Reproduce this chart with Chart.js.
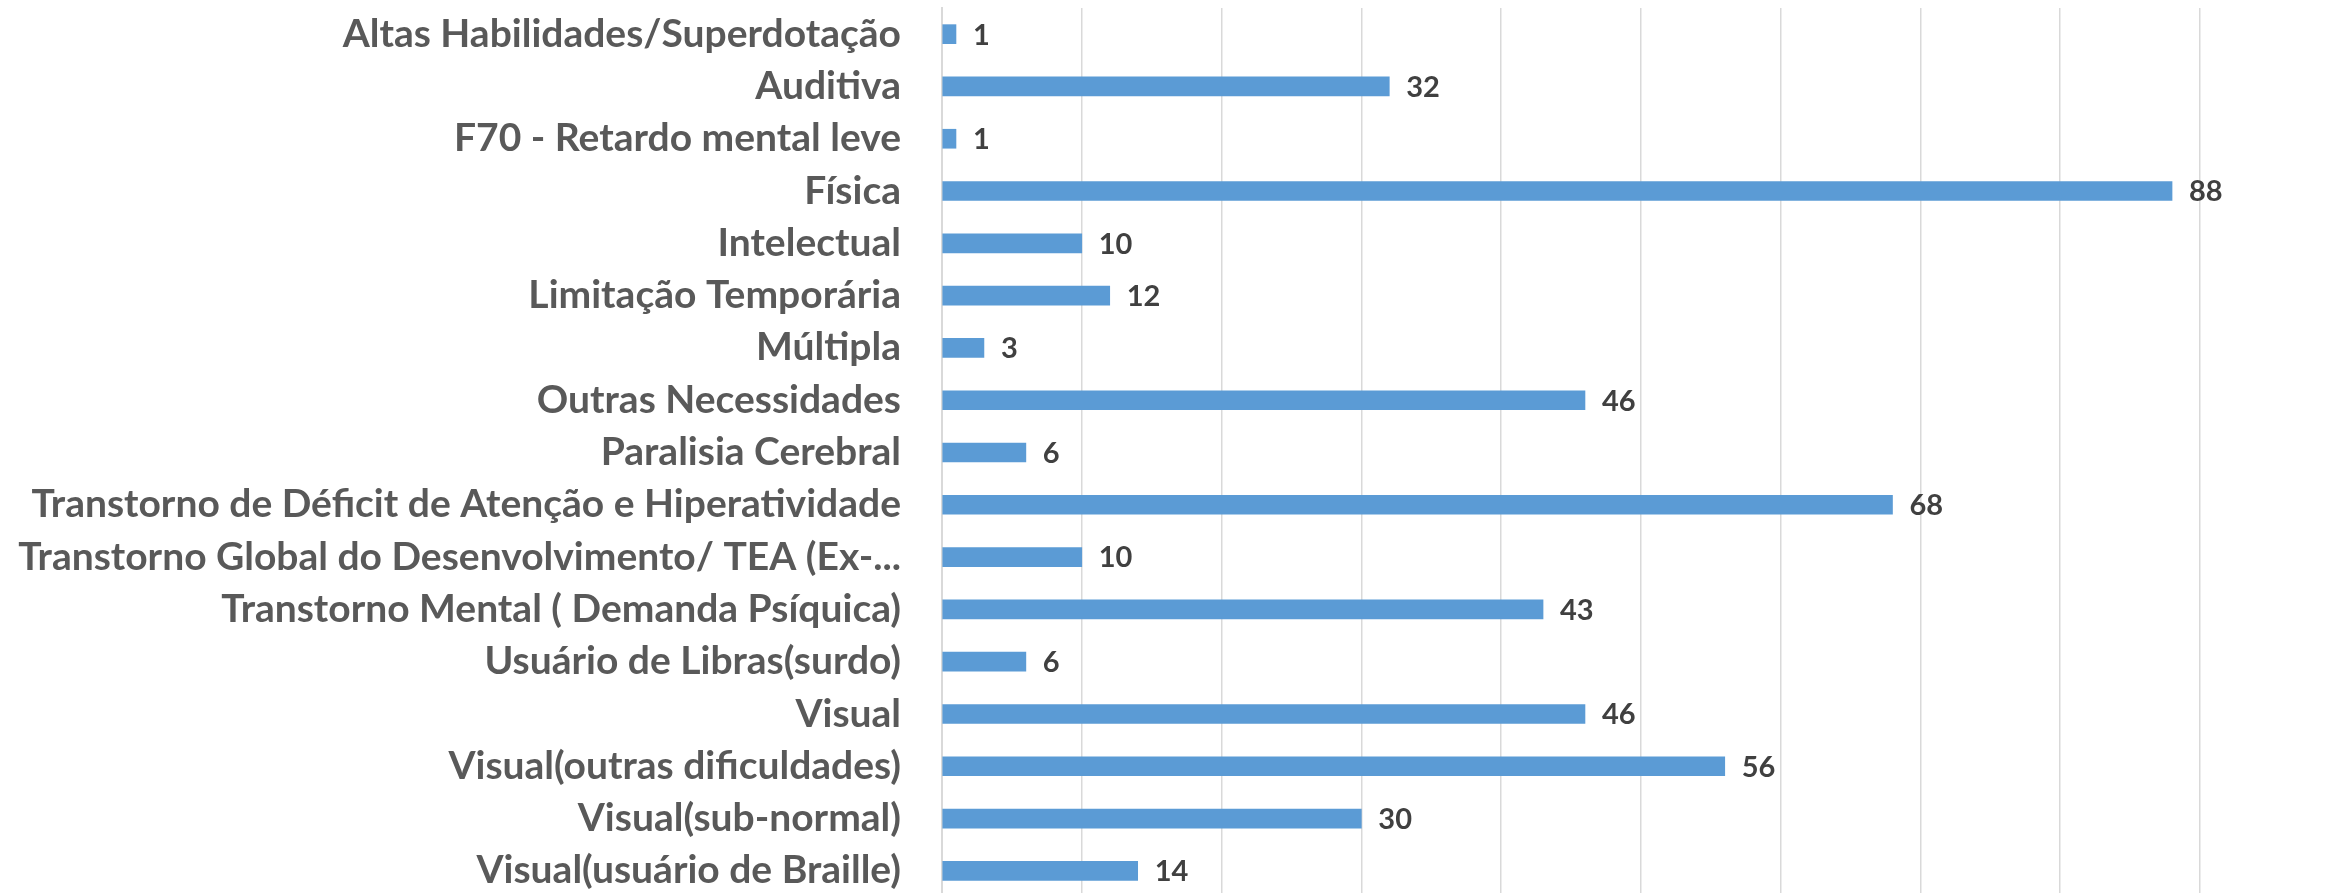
<!DOCTYPE html>
<html>
<head>
<meta charset="utf-8">
<script src="https://cdn.jsdelivr.net/npm/chart.js@4/dist/chart.umd.min.js"></script>
<style>
  html, body { margin: 0; padding: 0; background: #ffffff; overflow: hidden; }
  #wrap { position: relative; width: 2328px; height: 897px; }
</style>
</head>
<body>
<div id="wrap"><canvas id="c"></canvas></div>
<script>
const categories = [
  "Altas Habilidades/Superdotação",
  "Auditiva",
  "F70 - Retardo mental leve",
  "Física",
  "Intelectual",
  "Limitação Temporária",
  "Múltipla",
  "Outras Necessidades",
  "Paralisia Cerebral",
  "Transtorno de Déficit de Atenção e Hiperatividade",
  "Transtorno Global do Desenvolvimento/ TEA (Ex-...",
  "Transtorno Mental ( Demanda Psíquica)",
  "Usuário de Libras(surdo)",
  "Visual",
  "Visual(outras dificuldades)",
  "Visual(sub-normal)",
  "Visual(usuário de Braille)"
];
const counts = [1, 32, 1, 88, 10, 12, 3, 46, 6, 68, 10, 43, 6, 46, 56, 30, 14];
const axisMin = 0;
const axisMax = 90;
const axisStep = 10;

const FONT = "Lato, 'Open Sans', sans-serif";

const valueLabels = {
  id: 'valueLabels',
  afterDatasetsDraw(chart) {
    const ctx = chart.ctx;
    const meta = chart.getDatasetMeta(0);
    ctx.save();
    ctx.font = "bold 29px " + FONT;
    ctx.fillStyle = "#404040";
    ctx.textAlign = "left";
    ctx.textBaseline = "middle";
    meta.data.forEach((bar, i) => {
      ctx.fillText(String(chart.data.datasets[0].data[i]), bar.x + 17, bar.y + 1);
    });
    ctx.restore();
  }
};

new Chart(document.getElementById('c'), {
  type: 'bar',
  data: {
    labels: categories,
    datasets: [{
      data: counts,
      backgroundColor: '#5B9BD5',
      borderWidth: 0,
      barThickness: 19
    }]
  },
  options: {
    indexAxis: 'y',
    responsive: true,
    maintainAspectRatio: false,
    animation: false,
    layout: { padding: { top: 8, right: 128, bottom: 0, left: 0 } },
    plugins: { legend: { display: false }, tooltip: { enabled: false } },
    scales: {
      x: {
        min: axisMin,
        max: axisMax,
        ticks: { display: false, stepSize: axisStep },
        grid: { color: '#d9d9d9', lineWidth: 1.5, drawTicks: false },
        border: { display: false }
      },
      y: {
        ticks: {
          color: '#595959',
          font: { family: FONT, size: 39, weight: 'bold' },
          padding: 41,
          autoSkip: false
        },
        grid: { display: false, drawTicks: false },
        border: { display: true, color: '#d9d9d9', width: 2 },
        afterFit(scale) {
          scale.width = 942;
          scale.paddingTop = 0;
          scale.paddingBottom = 0;
        }
      }
    }
  },
  plugins: [valueLabels]
});
</script>
</body>
</html>
